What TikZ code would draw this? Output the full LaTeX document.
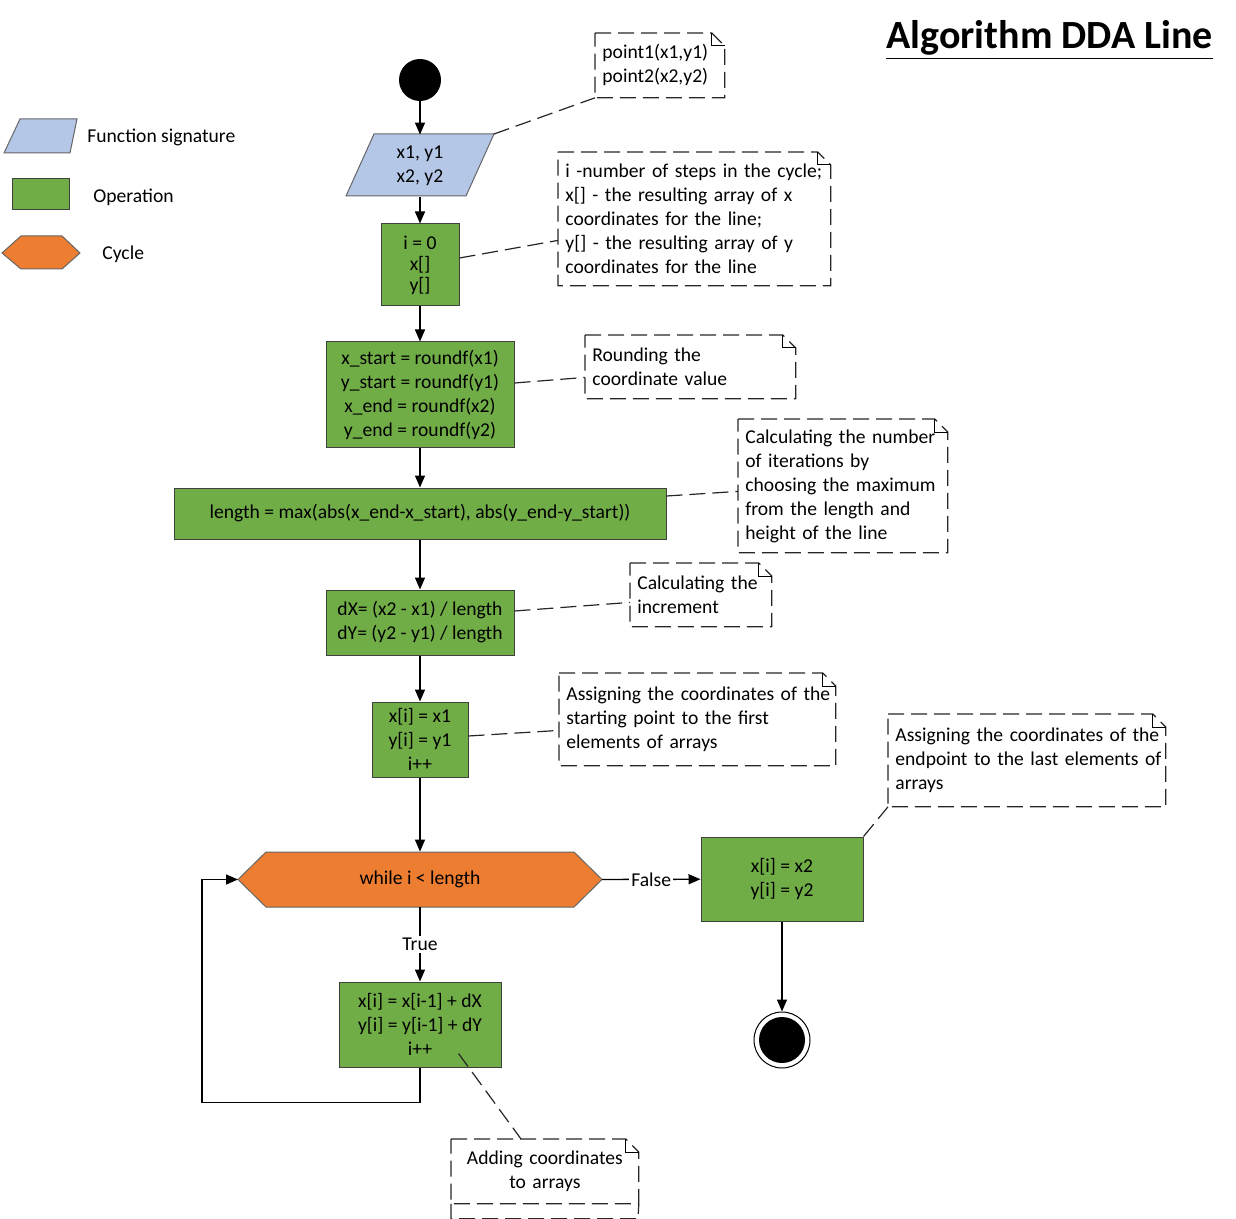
\documentclass[tikz,border=0pt]{standalone}
\usepackage{fontspec}
\setmainfont{Carlito}
\usetikzlibrary{arrows.meta}
\definecolor{opgreen}{HTML}{70AD47}
\definecolor{cycorange}{HTML}{ED7D31}
\definecolor{sigblue}{HTML}{B4C7E7}

\begin{document}
\begin{tikzpicture}[x=0.5pt, y=-0.5pt, font=\fontsize{9.8}{12}\selectfont,
    op/.style={draw=black!75, fill=opgreen, align=center, inner sep=0pt, line width=0.5pt},
    arr/.style={-{Triangle[length=6pt,width=5pt]}, line width=0.7pt},
    link/.style={dash pattern=on 8pt off 3.5pt, line width=0.6pt, draw=black!85},
    note/.style={anchor=north west, align=left, inner xsep=3.5pt, inner ysep=0pt},
    txt/.style={anchor=west, inner sep=0pt}]
    \useasboundingbox (0,0) rectangle (1236,1219);

    \node[font=\fontsize{20}{24}\selectfont\bfseries] (title) at (1049.5,40) {\underline{Algorithm DDA Line}};

    % legend
    \draw[fill=sigblue, draw=black!60, line width=0.5pt] (20,119) -- (77,119) -- (70,153) -- (4,153) -- cycle;
    \node[txt] (lsig) at (87,137) {Function signature};
    \draw[fill=opgreen, draw=black!75, line width=0.5pt] (12,179) rectangle (69,210);
    \node[txt] (lop) at (93,197) {Operation};
    \draw[fill=cycorange, draw=black!60, line width=0.5pt] (2,253) -- (21,236) -- (62,236) -- (80,253) -- (62,269) -- (21,269) -- cycle;
    \node[txt] (lcyc) at (102,254) {Cycle};

    % flow
    \node[circle, fill=black, minimum size=21pt, inner sep=0pt] (start) at (420,80) {};
    \draw[fill=sigblue, draw=black!60, line width=0.5pt] (374,134) -- (494,134) -- (466,196) -- (346,196) -- cycle;
    \coordinate (sigNE) at (494,134);
    \node[minimum width=60pt, minimum height=31pt, inner sep=0pt, align=center] (sig) at (420,166) {x1, y1\\x2, y2};
    \node[op, minimum width=39pt, minimum height=41pt, font=\fontsize{9.8}{10.5}\selectfont] (init) at (420,265) {i = 0\\x[]\\y[]};
    \node[op, minimum width=94pt, minimum height=52.5pt] (rnd) at (420,394.5)
        {x\_start = roundf(x1)\\y\_start = roundf(y1)\\x\_end = roundf(x2)\\y\_end = roundf(y2)};
    \node[op, minimum width=246pt, minimum height=25.5pt] (len) at (420,513.5)
        {length = max(abs(x\_end-x\_start), abs(y\_end-y\_start))};
    \node[op, minimum width=94pt, minimum height=32.5pt] (inc) at (420,622.5)
        {dX= (x2 - x1) / length\\dY= (y2 - y1) / length};
    \node[op, minimum width=48pt, minimum height=37.5pt] (first) at (420,739.5) {x[i] = x1\\y[i] = y1\\i++};
    \draw[fill=cycorange, draw=black!60, line width=0.5pt] (238,879.5) -- (266,852) -- (574,852) -- (602,879.5) -- (574,907) -- (266,907) -- cycle;
    \coordinate (loopL) at (238,879.5);
    \coordinate (loopR) at (602,879.5);
    \node[minimum width=154pt, minimum height=27.5pt, inner sep=0pt] (loop) at (420,879.5) {while i < length};
    \node[op, minimum width=81pt, minimum height=42pt] (last) at (782,879) {x[i] = x2\\y[i] = y2};
    \node[op, minimum width=81pt, minimum height=42.5pt] (step) at (420,1024.5) {x[i] = x[i-1] + dX\\y[i] = y[i-1] + dY\\i++};
    \node[circle, draw, line width=0.5pt, minimum size=28pt, inner sep=0pt] (stop) at (782,1040) {};
    \fill (stop) circle (11.5pt);

    \draw[arr] (start) -- (sig);
    \draw[arr] (sig) -- (init);
    \draw[arr] (init) -- (rnd);
    \draw[arr] (rnd) -- (len);
    \draw[arr] (len) -- (inc);
    \draw[arr] (inc) -- (first);
    \draw[arr] (first) -- (loop);
    \draw[arr] (loop) -- node[fill=white, inner sep=1pt] (ltrue) {True} (step);
    \draw[arr] (loopR) -- node[fill=white, inner sep=1pt] (lfalse) {False} (last);
    \draw[arr] (last) -- (stop);
    \draw[arr] (step.south) -- ++(0,35) -- ++(-218,0) |- (loopL);

    % notes
    \node[note, text width=57.5pt, minimum height=32pt] (n1) at (595,33) {point1(x1,y1)\\point2(x2,y2)};
    \node[note, text width=129pt, minimum height=66.5pt] (n2) at (558,152)
        {\mbox{i -number of steps in the cycle;}\\x[] - the resulting array of x\\coordinates for the line;\\y[] - the resulting array of y\\coordinates for the line};
    \node[note, text width=98pt, minimum height=31.5pt] (n3) at (585,335) {Rounding the\\coordinate value};
    \node[note, text width=97.5pt, minimum height=66.5pt] (n4) at (738,419)
        {\mbox{Calculating the number}\\of iterations by\\choosing the maximum\\from the length and\\height of the line};
    \node[note, text width=63.5pt, minimum height=31.5pt] (n5) at (630,563) {Calculating the\\increment};
    \node[note, text width=131pt, minimum height=46pt] (n6) at (559,673)
        {\mbox{Assigning the coordinates of the}\\starting point to the first\\elements of arrays};
    \node[note, text width=131.5pt, minimum height=46pt] (n7) at (888,714)
        {\mbox{Assigning the coordinates of the}\\\mbox{endpoint to the last elements of}\\arrays};
    \node[note, text width=86.5pt, minimum height=32pt, align=center] (n8) at (451,1139) {Adding coordinates\\to arrays};

    \foreach \n in {n1,n2,n3,n4,n5,n6,n7,n8} {
        \draw[link] (\n.north west) -- ([xshift=-6.5pt]\n.north east) -- ([yshift=-6.5pt]\n.north east) -- (\n.south east) -- (\n.south west) -- cycle;
        \draw[line width=0.5pt] ([xshift=-6.5pt]\n.north east) -- ([xshift=-6.5pt,yshift=-6.5pt]\n.north east) -- ([yshift=-6.5pt]\n.north east);
    }
    \draw[link] (n8.south west) -- ++(0,15) -- ++(187,0) -- (n8.south east);

    \draw[link] (sigNE) -- (n1.south west);
    \draw[link] ([yshift=3.5pt]init.east) -- ([yshift=-10.75pt]n2.west);
    \draw[link] ([yshift=5.75pt]rnd.east) -- ([yshift=-5.25pt]n3.west);
    \draw[link] ([yshift=8.75pt]len.east) -- ([yshift=-2.75pt]n4.west);
    \draw[link] ([yshift=5.75pt]inc.east) -- ([yshift=-3.75pt]n5.west);
    \draw[link] ([yshift=1.75pt]first.east) -- ([yshift=-5.5pt]n6.west);
    \draw[link] (last.north east) -- (n7.south west);
    \draw[link] ([xshift=-21.5pt,yshift=7pt]step.south east) -- ([xshift=35pt]n8.north west);
\end{tikzpicture}
\end{document}
